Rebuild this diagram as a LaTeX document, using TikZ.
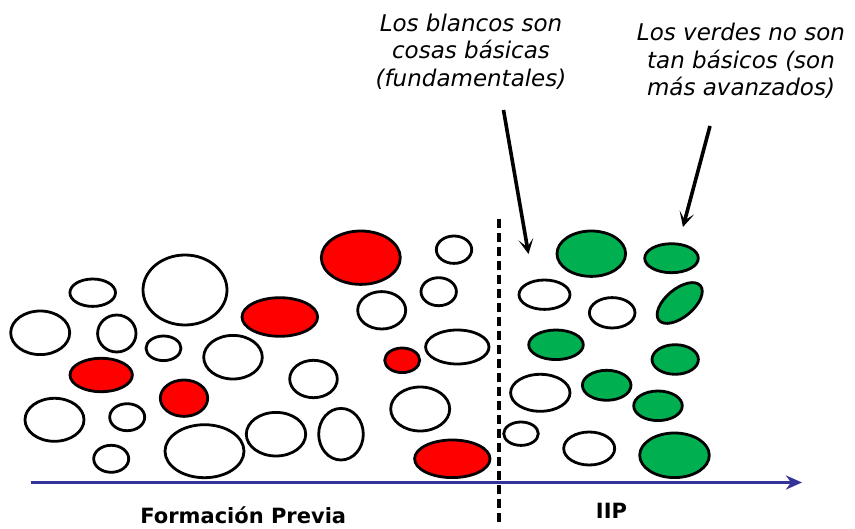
\documentclass[tikz,border=0pt]{standalone}
\usepackage{fontspec}
\setmainfont{DejaVu Sans}
\usetikzlibrary{shapes.geometric,arrows.meta}
\definecolor{ballred}{RGB}{255,0,0}
\definecolor{ballgreen}{RGB}{0,176,80}
\definecolor{axisblue}{RGB}{51,51,153}
\tikzset{
  ballbase/.style={ellipse, draw=black, line width=2.8pt, inner sep=0pt, outer sep=0pt},
  wb/.style={ballbase, fill=white},
  rb/.style={ballbase, fill=ballred},
  gb/.style={ballbase, fill=ballgreen},
  note/.style={font=\fontsize{23}{27.5}\selectfont\itshape, align=center, inner sep=0pt},
  axlabel/.style={font=\fontsize{21}{25}\selectfont\bfseries, inner sep=0pt, anchor=base},
  pointer/.style={line width=3.6pt, -{Stealth[length=15pt,width=15pt,inset=8pt]}},
}
\begin{document}
\begin{tikzpicture}[x=1pt,y=-1pt]
\useasboundingbox (0,0) rectangle (855,529);
% left area
\node[wb, minimum width=45.6pt, minimum height=27.4pt] (w1) at (92.7,292.7) {};
\node[wb, minimum width=84pt, minimum height=70pt] (w2) at (185,290) {};
\node[wb, minimum width=59pt, minimum height=43.6pt] (w3) at (40.2,332.8) {};
\node[wb, minimum width=38.4pt, minimum height=37pt] (w4) at (116.8,333.5) {};
\node[wb, minimum width=35pt, minimum height=24.6pt] (w5) at (163.5,348.3) {};
\node[rb, minimum width=62.4pt, minimum height=33.4pt] (r1) at (101.2,375) {};
\node[rb, minimum width=47.4pt, minimum height=36.4pt] (r2) at (184,398.2) {};
\node[wb, minimum width=59pt, minimum height=43pt] (w6) at (54.5,419.8) {};
\node[wb, minimum width=35pt, minimum height=27pt] (w7) at (127.2,417.2) {};
\node[wb, minimum width=35pt, minimum height=27pt] (w8) at (111.2,458.8) {};
\node[wb, minimum width=79pt, minimum height=53pt] (w9) at (204.5,451.2) {};
\node[wb, minimum width=58.6pt, minimum height=43.6pt] (w10) at (233,357.2) {};
\node[rb, minimum width=79pt, minimum height=53.4pt] (r3) at (360.8,257.7) {};
\node[wb, minimum width=35.4pt, minimum height=27.4pt] (w11) at (454,249.7) {};
\node[wb, minimum width=35.4pt, minimum height=28pt] (w12) at (438.7,291.7) {};
\node[wb, minimum width=48pt, minimum height=37.4pt] (w13) at (381.7,310.3) {};
\node[rb, minimum width=75.6pt, minimum height=38.6pt] (r4) at (279.8,317) {};
\node[wb, minimum width=63.4pt, minimum height=34pt] (w14) at (457.3,347) {};
\node[rb, minimum width=35pt, minimum height=24.6pt] (r5) at (402.2,360.3) {};
\node[wb, minimum width=47.6pt, minimum height=37.4pt] (w15) at (313.5,379) {};
\node[wb, minimum width=59pt, minimum height=44pt] (w16) at (420.2,409) {};
\node[wb, minimum width=59.4pt, minimum height=43.6pt] (w17) at (276,434.2) {};
\node[wb, minimum width=44.6pt, minimum height=51.6pt] (w18) at (341,434.2) {};
\node[rb, minimum width=75.4pt, minimum height=37.6pt] (r6) at (452.3,458.8) {};
% right area
\node[gb, minimum width=68.6pt, minimum height=45.4pt] (g1) at (591.3,253.7) {};
\node[gb, minimum width=53.6pt, minimum height=29pt] (g2) at (671.5,258.2) {};
\node[wb, minimum width=51pt, minimum height=29.4pt] (w19) at (544.5,294.7) {};
\node[wb, minimum width=45.6pt, minimum height=30.4pt] (w20) at (612.2,312.8) {};
\node[gb, minimum width=54pt, minimum height=28pt, rotate=40] (g3) at (679.7,303) {};
\node[gb, minimum width=54.6pt, minimum height=29.6pt] (g4) at (556,344.8) {};
\node[gb, minimum width=46.4pt, minimum height=29.6pt] (g5) at (675.2,359.5) {};
\node[wb, minimum width=59.4pt, minimum height=37pt] (w21) at (540.3,392.8) {};
\node[gb, minimum width=48.6pt, minimum height=30pt] (g6) at (606.7,385.3) {};
\node[gb, minimum width=48.6pt, minimum height=29.6pt] (g7) at (658,405.8) {};
\node[wb, minimum width=34.6pt, minimum height=23.4pt] (w22) at (521,433.7) {};
\node[wb, minimum width=51pt, minimum height=33pt] (w23) at (589.2,448.5) {};
\node[gb, minimum width=69.6pt, minimum height=44.6pt] (g8) at (674.5,455.3) {};
% axis
\coordinate (ax0) at (30.7,482.5);
\coordinate (ax1) at (802,482.5);
\draw[axisblue, line width=3.2pt, -{Stealth[length=16pt,width=14pt,inset=5pt]}] (ax0) -- (ax1);
% divider
\coordinate (dv0) at (498.5,219);
\coordinate (dv1) at (498.5,522);
\draw[line width=4pt, dash pattern=on 9pt off 5pt] (dv0) -- (dv1);
% labels
\node[axlabel] (fp) at (243.3,523.3) {Formación Previa};
\node[axlabel] (iip) at (611.5,518.3) {IIP};
% notes
\node[note] (n1) at (471,51.5) {Los blancos son\\cosas básicas\\(fundamentales)};
\node[note] (n2) at (741,61.1) {Los verdes no son\\tan básicos (son\\más avanzados)};
\coordinate (p1s) at (503.5,110);
\coordinate (p1e) at (528.5,254);
\coordinate (p2s) at (710,126);
\coordinate (p2e) at (683,227);
\draw[pointer] (p1s) -- (p1e);
\draw[pointer] (p2s) -- (p2e);
\end{tikzpicture}
\end{document}
